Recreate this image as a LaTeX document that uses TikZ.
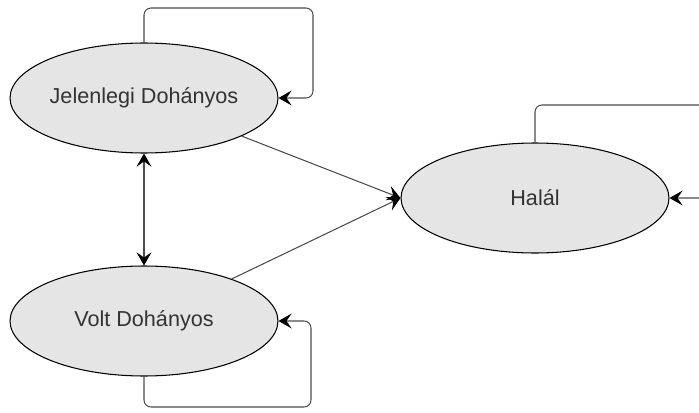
\documentclass[tikz,border=0pt]{standalone}
\usepackage{fontspec}
\setmainfont{Liberation Sans}
\usetikzlibrary{arrows.meta,shapes.geometric}

\begin{document}
\begin{tikzpicture}[x=0.02cm,y=-0.02cm,
  state/.style={ellipse, draw=black, line width=0.6pt, fill=black!10,
    text=black!80, font=\fontsize{12.3}{14}\selectfont,
    minimum width=5.36cm, minimum height=2.2cm, inner sep=0pt},
  conn/.style={draw=black!70, line width=0.6pt,
    -{Stealth[length=7.5pt,width=8.5pt,inset=3pt,color=black]}},
  loop/.style={conn, rounded corners=4pt}]
\useasboundingbox (0,0) rectangle (699,412);

\node[state] (jd) at (144,98) {Jelenlegi Dohányos};
\node[state] (vd) at (144,321) {Volt Dohányos};
\node[state] (hal) at (535,198) {Halál};

% self loops
\draw[loop] (jd.north) -- (jd.north |- 0,8) -| (313,98) -- (jd.east);
\draw[loop] (vd.south) -- (vd.south |- 0,407) -| (311,321) -- (vd.east);
\draw[loop] (hal.north) -- (hal.north |- 0,105) -| (720,198) -- (hal.east);

% transitions
\draw[conn, {Stealth[length=7.5pt,width=8.5pt,inset=3pt,color=black]}-{Stealth[length=7.5pt,width=8.5pt,inset=3pt,color=black]}] (jd.south) -- (vd.north);
\draw[conn] (jd) -- (hal.west);
\draw[conn] (vd) -- (hal.west);
\end{tikzpicture}
\end{document}
